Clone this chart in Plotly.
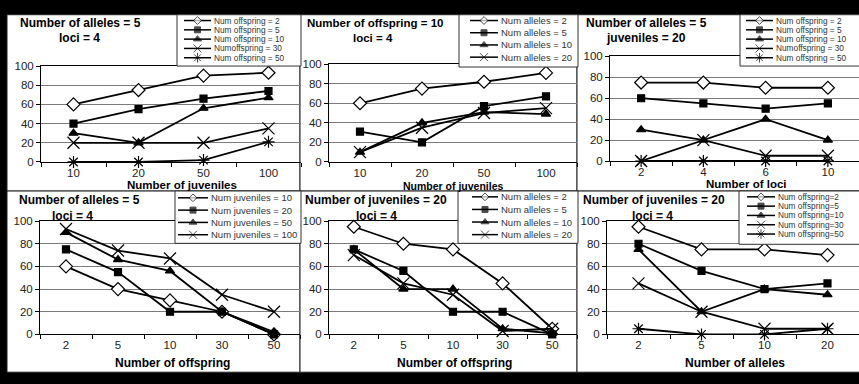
import plotly.graph_objects as go

W, H = 859, 384
FONT = "Liberation Sans, Arial, sans-serif"

# ---------------- data ----------------
juv_cats = ["10", "20", "50", "100"]
loci_cats = ["2", "4", "6", "10"]
off_cats = ["2", "5", "10", "30", "50"]
allele_cats = ["2", "5", "10", "20"]

p1_labels = ["Num offspring = 2", "Num offspring = 5", "Num offspring = 10",
             "Numoffspring = 30", "Num offspring = 50"]
p1_off2 = [60, 75, 90, 93]
p1_off5 = [40, 55, 66, 74]
p1_off10 = [30, 20, 56, 67]
p1_off30 = [20, 20, 20, 35]
p1_off50 = [0, 0, 2, 21]

p2_labels = ["Num alleles = 2", "Num alleles = 5", "Num alleles = 10", "Num alleles = 20"]
p2_all2 = [60, 75, 82, 91]
p2_all5 = [31, 20, 57, 67]
p2_all10 = [10, 40, 51, 49]
p2_all20 = [10, 35, 50, 55]

p3_labels = ["Num offspring = 2", "Num offspring = 5", "Num offspring = 10",
             "Numoffspring = 30", "Num offspring = 50"]
p3_off2 = [75, 75, 70, 70]
p3_off5 = [60, 55, 50, 55]
p3_off10 = [30, 20, 40, 20]
p3_off30 = [0, 20, 5, 5]
p3_off50 = [0, 0, 0, 0]

p4_labels = ["Num juveniles = 10", "Num juveniles = 20", "Num juveniles = 50", "Num juveniles = 100"]
p4_juv10 = [60, 40, 30, 20, 0]
p4_juv20 = [75, 55, 20, 20, 0]
p4_juv50 = [90, 66, 56, 20, 2]
p4_juv100 = [93, 74, 67, 35, 20]

p5_labels = ["Num alleles = 2", "Num alleles = 5", "Num alleles = 10", "Num alleles = 20"]
p5_all2 = [95, 80, 75, 45, 5]
p5_all5 = [75, 56, 20, 20, 0]
p5_all10 = [75, 40, 40, 5, 1]
p5_all20 = [70, 45, 35, 3, 5]

p6_labels = ["Num offspring=2", "Num offspring=5", "Num offspring=10",
             "Num offspring=30", "Num offspring=50"]
p6_off2 = [95, 75, 75, 70]
p6_off5 = [80, 56, 40, 45]
p6_off10 = [75, 20, 40, 35]
p6_off30 = [45, 20, 5, 5]
p6_off50 = [5, 0, 0, 5]

# ---------------- styles ----------------
SYM5 = [("diamond", 10, "white"), ("square", 7, "black"), ("triangle-up", 8, "black"),
        ("x-thin-open", 12, "black"), ("asterisk-open", 10, "black")]
SYM4 = SYM5[:4]
LEG_SIZE = {"diamond": 6, "square": 6, "triangle-up": 7, "x-thin-open": 8, "asterisk-open": 8}
TICK_SIZE = 11.5


def px(x):
    return x / W


def py(y):
    return 1 - y / H


panels = [
    dict(cats=juv_cats, series=[p1_off2, p1_off5, p1_off10, p1_off30, p1_off50], labels=p1_labels,
         dom=(41, 301, 62, 161), title=["Number of alleles = 5", "loci = 4"],
         tpos=[(80, 18), (79, 33)], tsize=12, xt="Number of juveniles", xtpos=(182, 185), xtsize=11.5,
         leg=dict(box=(177, 9, 301, 62), y0=15, dy=9.6, lx=(184, 211), tx=212, fs=8.3),
         rect=(7, 9, 300, 191)),
    dict(cats=juv_cats, series=[p2_all2, p2_all5, p2_all10, p2_all20], labels=p2_labels,
         dom=(329, 577, 60, 161), title=["Number of offspring = 10", "loci = 4"],
         tpos=[(375, 18), (373, 33)], tsize=11.5, xt="Number of juveniles", xtpos=(453, 186), xtsize=10.5,
         leg=dict(box=(459, 9, 578, 63), y0=15, dy=12.6, lx=(470, 498), tx=499, fs=9.5),
         rect=(300, 9, 577, 191)),
    dict(cats=loci_cats, series=[p3_off2, p3_off5, p3_off10, p3_off30, p3_off50], labels=p3_labels,
         dom=(610, 859, 52, 160), title=["Number of alleles = 5", "juveniles = 20"],
         tpos=[(646, 18), (646, 33)], tsize=12, xt="Number of loci", xtpos=(746, 184), xtsize=11.5,
         leg=dict(box=(740, 9, 860, 62), y0=15, dy=9.6, lx=(746, 773), tx=774, fs=8.3),
         rect=(577, 9, 860, 191)),
    dict(cats=off_cats, series=[p4_juv10, p4_juv20, p4_juv50, p4_juv100], labels=p4_labels,
         dom=(40, 300, 222, 339), title=["Number of alleles = 5", "loci = 4"],
         tpos=[(79, 200), (72, 217)], tsize=12, xt="Number of offspring", xtpos=(172, 369), xtsize=12,
         leg=dict(box=(175, 191, 301, 245), y0=198, dy=12.7, lx=(178, 208), tx=209, fs=9.5),
         rect=(7, 191, 300, 378)),
    dict(cats=off_cats, series=[p5_all2, p5_all5, p5_all10, p5_all20], labels=p5_labels,
         dom=(329, 577, 222, 339), title=["Number of juveniles = 20", "loci = 4"],
         tpos=[(376, 200), (376, 217)], tsize=12, xt="Number of offspring", xtpos=(454, 369), xtsize=12,
         leg=dict(box=(458, 191, 578, 245), y0=197, dy=13, lx=(472, 498), tx=499, fs=9.5),
         rect=(300, 191, 577, 378)),
    dict(cats=allele_cats, series=[p6_off2, p6_off5, p6_off10, p6_off30, p6_off50], labels=p6_labels,
         dom=(607, 859, 222, 339), title=["Number of juveniles = 20", "loci = 4"],
         tpos=[(654, 200), (652, 217)], tsize=12, xt="Number of alleles", xtpos=(735, 369), xtsize=12,
         leg=dict(box=(739, 191, 860, 246), y0=197, dy=9.6, lx=(747, 775), tx=776, fs=8.3),
         rect=(577, 191, 860, 378)),
]

fig = go.Figure()
layout = dict(width=W, height=H, margin=dict(l=0, r=0, t=0, b=0),
              paper_bgcolor="black", plot_bgcolor="rgba(0,0,0,0)",
              showlegend=False, font=dict(family=FONT, color="#222"))
shapes = []
annotations = []

for i, p in enumerate(panels):
    k = "" if i == 0 else str(i + 1)
    x0, x1, y0, y1 = p["dom"]
    layout["xaxis" + k] = dict(domain=[px(x0), px(x1)], anchor="y" + k, type="category",
                               categoryorder="array", categoryarray=p["cats"],
                               range=[-0.5, len(p["cats"]) - 0.5],
                               showline=True, linecolor="black", linewidth=1, mirror=True,
                               ticks="outside", tickson="boundaries", ticklen=4, tickcolor="black",
                               showgrid=False, tickfont=dict(size=TICK_SIZE, color="#222"),
                               fixedrange=True)
    layout["yaxis" + k] = dict(domain=[py(y1), py(y0)], anchor="x" + k, range=[0, 100], dtick=20,
                               showgrid=True, gridcolor="#7a7a7a", gridwidth=1, zeroline=False,
                               showline=True, linecolor="black", linewidth=1,
                               ticks="outside", ticklen=4, tickcolor="black",
                               tickfont=dict(size=TICK_SIZE, color="#222"), fixedrange=True)
    syms = SYM5 if len(p["series"]) == 5 else SYM4
    for vals, lab, (sym, size, fillc) in zip(p["series"], p["labels"], syms):
        fig.add_trace(go.Scatter(x=p["cats"], y=vals, name=lab, mode="lines+markers",
                                 xaxis="x" + k, yaxis="y" + k, cliponaxis=False,
                                 line=dict(color="black", width=1.8),
                                 marker=dict(symbol=sym, size=size, color=fillc,
                                             line=dict(color="black", width=1.2))))
    # panel background
    rx0, ry0, rx1, ry1 = p["rect"]
    shapes.append(dict(type="rect", xref="paper", yref="paper", layer="below",
                       x0=px(rx0), x1=px(rx1), y0=py(ry1), y1=py(ry0),
                       fillcolor="white", line=dict(color="#222", width=1)))
    # titles
    for txt, (tx, ty) in zip(p["title"], p["tpos"]):
        annotations.append(dict(text="<b>" + txt + "</b>", x=px(tx), y=py(ty), xref="paper", yref="paper",
                                showarrow=False, xanchor="center", yanchor="middle",
                                font=dict(size=p["tsize"], color="black", family=FONT)))
    annotations.append(dict(text="<b>" + p["xt"] + "</b>", x=px(p["xtpos"][0]), y=py(p["xtpos"][1]),
                            xref="paper", yref="paper", showarrow=False, xanchor="center",
                            yanchor="middle", font=dict(size=p["xtsize"], color="black", family=FONT)))

# overlay axis in pixel coordinates for the per-panel legends
layout["xaxis7"] = dict(domain=[0, 1], range=[0, W], visible=False, anchor="y7", fixedrange=True)
layout["yaxis7"] = dict(domain=[0, 1], range=[H, 0], visible=False, anchor="x7", fixedrange=True)

for p in panels:
    L = p["leg"]
    bx0, by0, bx1, by1 = L["box"]
    fig.add_trace(go.Scatter(x=[bx0, bx1, bx1, bx0, bx0], y=[by0, by0, by1, by1, by0],
                             mode="lines", fill="toself", fillcolor="white",
                             line=dict(color="#333", width=1), xaxis="x7", yaxis="y7",
                             hoverinfo="skip", cliponaxis=False))
    syms = SYM5 if len(p["series"]) == 5 else SYM4
    for j, (lab, (sym, size, fillc)) in enumerate(zip(p["labels"], syms)):
        ry = L["y0"] + j * L["dy"]
        lx0, lx1 = L["lx"]
        fig.add_trace(go.Scatter(x=[lx0, (lx0 + lx1) / 2, lx1], y=[ry, ry, ry], mode="lines+markers",
                                 line=dict(color="black", width=1.5), xaxis="x7", yaxis="y7",
                                 cliponaxis=False, hoverinfo="skip",
                                 marker=dict(symbol=sym, size=[0, LEG_SIZE[sym], 0], color=fillc,
                                             line=dict(color="black", width=1))))
        annotations.append(dict(text=lab, x=px(L["tx"]), y=py(ry), xref="paper", yref="paper",
                                showarrow=False, xanchor="left", yanchor="middle",
                                font=dict(size=L["fs"], color="#333", family=FONT)))

layout["shapes"] = shapes
layout["annotations"] = annotations
fig.update_layout(**layout)
fig.write_html("out.html", config={"displayModeBar": False},
               post_script="document.body.style.margin='0';document.body.style.overflow='hidden';")
